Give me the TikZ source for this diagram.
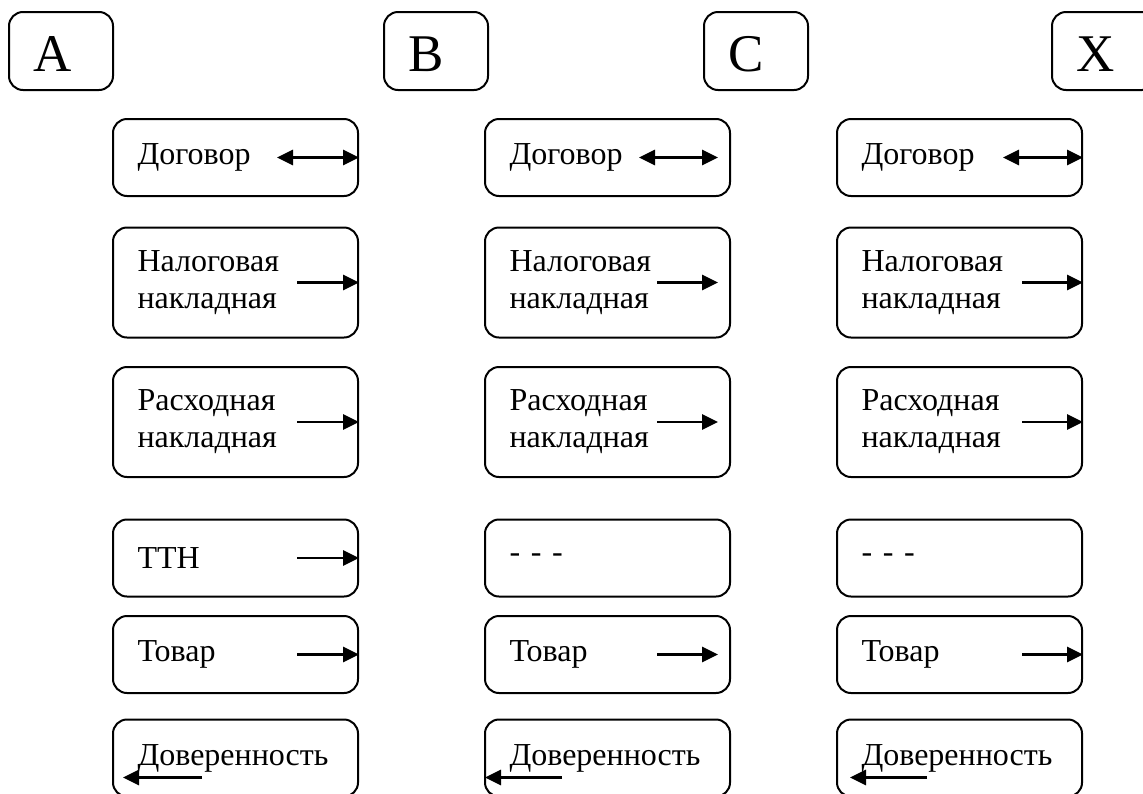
\documentclass[tikz,border=0pt]{standalone}
\usepackage{fontspec}
\setmainfont{Liberation Serif}
\usetikzlibrary{arrows.meta}
\usetikzlibrary{positioning}

\tikzset{
  party/.style={draw, rounded corners=7pt, line width=1pt, anchor=north west,
    minimum width=52pt, minimum height=39pt, text width=28pt, inner xsep=12pt,
    align=left, text height=20pt, text depth=0pt,
    font=\fontsize{26.5}{30}\selectfont},
  doc/.style={draw, rounded corners=7pt, line width=1pt,
    minimum width=122.5pt, minimum height=38.5pt, text width=98pt, inner xsep=12.25pt,
    align=left, font=\fontsize{16}{18.5}\selectfont},
  tall/.style={minimum height=55pt},
  sendarrow/.style={line width=1.4pt, ->},
  twoway/.style={line width=1.4pt, <->}
}

\begin{document}
\begin{tikzpicture}[x=0.5pt, y=-0.5pt, >={Triangle[length=8pt,width=7.5pt]}]
            \clip (0,0) rectangle (1143,793);

            \node[party] (A) at (8,11) {A};
            \node[party] (B) at (383,11) {B};
            \node[party] (C) at (703,11) {C};
            \node[party] (X) at (1051,11) {X};

            % first column
            \node[doc, anchor=north west] (dog1) at (112,118) {Договор};
            \node[doc, tall, below=14.75pt of dog1] (nal1) {Налоговая\\накладная};
            \node[doc, tall, below=13.75pt of nal1] (ras1) {Расходная\\накладная};
            \node[doc, below=20.25pt of ras1] (ttn1) {ТТН};
            \node[doc, below=8.75pt of ttn1] (tov1) {Товар};
            \node[doc, below=12.25pt of tov1] (dov1) {Доверенность};

            % second column
            \node[doc, anchor=north west] (dog2) at (484,118) {Договор};
            \node[doc, tall, below=14.75pt of dog2] (nal2) {Налоговая\\накладная};
            \node[doc, tall, below=13.75pt of nal2] (ras2) {Расходная\\накладная};
            \node[doc, below=20.25pt of ras2] (ttn2) {- - -};
            \node[doc, below=8.75pt of ttn2] (tov2) {Товар};
            \node[doc, below=12.25pt of tov2] (dov2) {Доверенность};

            % third column
            \node[doc, anchor=north west] (dog3) at (836,118) {Договор};
            \node[doc, tall, below=14.75pt of dog3] (nal3) {Налоговая\\накладная};
            \node[doc, tall, below=13.75pt of nal3] (ras3) {Расходная\\накладная};
            \node[doc, below=20.25pt of ras3] (ttn3) {- - -};
            \node[doc, below=8.75pt of ttn3] (tov3) {Товар};
            \node[doc, below=12.25pt of tov3] (dov3) {Доверенность};

            \draw[twoway] ([xshift=-41pt]dog1.east) -- (dog1.east);
            \draw[sendarrow] ([xshift=-31pt]nal1.east) -- (nal1.east);
            \draw[sendarrow] ([xshift=-31pt]ras1.east) -- (ras1.east);
            \draw[sendarrow] ([xshift=-31pt]ttn1.east) -- (ttn1.east);
            \draw[sendarrow] ([xshift=-31pt]tov1.east) -- (tov1.east);
            \draw[sendarrow] ([xshift=45pt,yshift=-9.75pt]dov1.west) -- ([xshift=5.5pt,yshift=-9.75pt]dov1.west);

            \draw[twoway] ([xshift=-46pt]dog2.east) -- ([xshift=-6.5pt]dog2.east);
            \draw[sendarrow] ([xshift=-37pt]nal2.east) -- ([xshift=-6.5pt]nal2.east);
            \draw[sendarrow] ([xshift=-37pt]ras2.east) -- ([xshift=-6.5pt]ras2.east);
            \draw[sendarrow] ([xshift=-37pt]tov2.east) -- ([xshift=-6.5pt]tov2.east);
            \draw[sendarrow] ([xshift=39pt,yshift=-9.75pt]dov2.west) -- ([xshift=0.5pt,yshift=-9.75pt]dov2.west);

            \draw[twoway] ([xshift=-40pt]dog3.east) -- (dog3.east);
            \draw[sendarrow] ([xshift=-30.5pt]nal3.east) -- (nal3.east);
            \draw[sendarrow] ([xshift=-30.5pt]ras3.east) -- (ras3.east);
            \draw[sendarrow] ([xshift=-30.5pt]tov3.east) -- (tov3.east);
            \draw[sendarrow] ([xshift=45.5pt,yshift=-9.75pt]dov3.west) -- ([xshift=7pt,yshift=-9.75pt]dov3.west);
        \end{tikzpicture}
\end{document}
